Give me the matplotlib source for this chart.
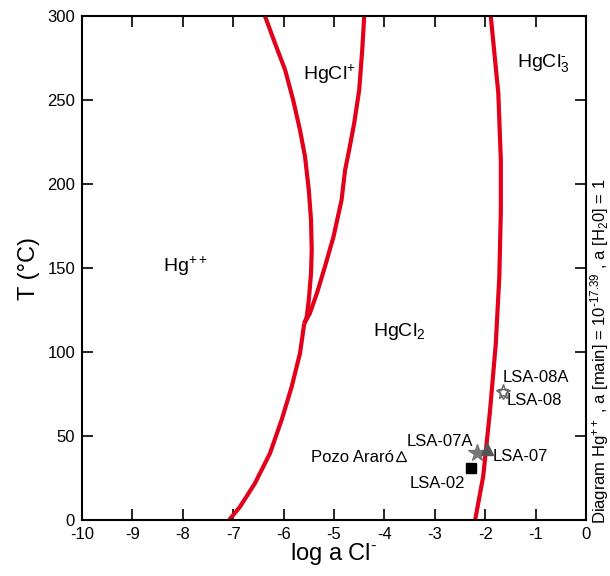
import matplotlib.pyplot as plt

plt.rcParams['font.family'] = ['Liberation Sans', 'DejaVu Sans']
plt.rcParams['mathtext.fontset'] = 'custom'
plt.rcParams['mathtext.rm'] = 'Liberation Sans'
plt.rcParams['mathtext.it'] = 'Liberation Sans'
plt.rcParams['mathtext.default'] = 'regular'
plt.rcParams['axes.unicode_minus'] = False

# Límites de estabilidad (log a Cl-, T)
hg_hgcl_x = [-6.37, -6.17, -5.97, -5.81, -5.675, -5.575, -5.50, -5.456,
             -5.442, -5.456, -5.50, -5.54, -5.59]
hg_hgcl_t = [300, 283.7, 267.9, 250, 232.1, 216.3, 196.4, 178.6,
             160.7, 146.8, 131, 121, 117]

hg_hgcl2_x = [-5.59, -5.675, -5.84, -6.04, -6.27, -6.57, -6.865, -7.08]
hg_hgcl2_t = [117, 99.2, 79.3, 59.5, 39.7, 21.8, 7.9, 0]

hgcl_hgcl2_x = [-4.40, -4.44, -4.50, -4.60, -4.70, -4.78, -4.85, -5.01,
                -5.18, -5.34, -5.48, -5.59]
hgcl_hgcl2_t = [300, 279.8, 256, 236.1, 220.2, 208.3, 190.5, 168.6,
                150.8, 134.9, 123, 117]

hgcl2_hgcl3_x = [-1.89, -1.74, -1.69, -1.69, -1.72, -1.79, -1.905, -2.04, -2.20]
hgcl2_hgcl3_t = [300, 254, 214, 184, 145, 105, 65, 26, 0]

# Muestras
pozo_x, pozo_t = -3.67, 38
lsa07a_x, lsa07a_t = -2.17, 40
lsa07_x, lsa07_t = -1.96, 42
lsa02_x, lsa02_t = -2.29, 31
lsa08a_x, lsa08a_t = -1.65, 76
lsa08_x, lsa08_t = -1.65, 75

fig = plt.figure(figsize=(6.1, 5.76), dpi=100)
ax = fig.add_axes([0.1344, 0.0972, 0.8263, 0.875])

red = '#e2001a'
for xs, ts in [(hg_hgcl_x, hg_hgcl_t), (hg_hgcl2_x, hg_hgcl2_t),
               (hgcl_hgcl2_x, hgcl_hgcl2_t), (hgcl2_hgcl3_x, hgcl2_hgcl3_t)]:
    ax.plot(xs, ts, color=red, lw=3, solid_capstyle='butt',
            solid_joinstyle='round', zorder=2)

ax.plot(pozo_x, pozo_t, marker='^', ms=7, mfc='white', mec='black', mew=0.9, ls='none', zorder=3)
ax.plot(lsa07a_x, lsa07a_t, marker='*', ms=13, color='#777777', ls='none', zorder=3)
ax.plot(lsa07_x, lsa07_t, marker='^', ms=9, color='#555555', ls='none', zorder=3)
ax.plot(lsa02_x, lsa02_t, marker='s', ms=7, color='black', ls='none', zorder=3)
ax.plot(lsa08a_x, lsa08a_t, marker='*', ms=11, mfc='none', mec='#666666', mew=1, ls='none', zorder=3)
ax.plot(lsa08_x, lsa08_t, marker='v', ms=7, mfc='none', mec='#666666', mew=1, ls='none', zorder=3)

fs = 12
ax.text(-3.8, 37, 'Pozo Araró', fontsize=fs, ha='right', va='center')
ax.text(-2.9, 47, 'LSA-07A', fontsize=fs, ha='center', va='center')
ax.text(-1.85, 38, 'LSA-07', fontsize=fs, ha='left', va='center')
ax.text(-2.95, 22, 'LSA-02', fontsize=fs, ha='center', va='center')
ax.text(-1.65, 85, 'LSA-08A', fontsize=fs, ha='left', va='center')
ax.text(-1.58, 71, 'LSA-08', fontsize=fs, ha='left', va='center')

rs = 14
ax.text(-7.96, 151, 'Hg$^{++}$', fontsize=rs, ha='center', va='center')
ax.text(-5.1, 265, 'HgCl$^{+}$', fontsize=rs, ha='center', va='center')
ax.text(-3.7, 112, 'HgCl$_{2}$', fontsize=rs, ha='center', va='center')
ax.text(-0.85, 272, 'HgCl$_{3}^{\u2010}$', fontsize=rs, ha='center', va='center')

ax.set_xlim(-10, 0)
ax.set_ylim(0, 300)
ax.set_xticks(range(-10, 1))
ax.set_yticks(range(0, 301, 50))
ax.tick_params(direction='in', length=8, width=1.2, top=True, right=True,
               labelsize=12, pad=5)
for sp in ax.spines.values():
    sp.set_linewidth(1.5)

ax.set_xlabel('log a Cl$^{\u2010}$', fontsize=17, labelpad=-1)
ax.set_ylabel('T (°C)', fontsize=17, labelpad=5)

fig.text(0.983, 0.39, 'Diagram Hg$^{++}$ , a [main] = 10$^{\u201017.39}$ , a [H$_{2}$0] = 1',
         rotation=90, fontsize=12, ha='center', va='center')

fig.savefig('out.png', dpi=100)
